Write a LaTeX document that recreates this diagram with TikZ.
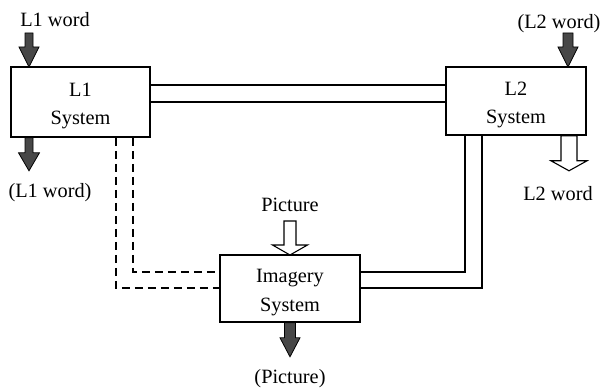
\documentclass[tikz,border=0pt]{standalone}
\usepackage{fontspec}
\setmainfont{Liberation Serif}
\begin{document}
\begin{tikzpicture}[x=1pt,y=-1pt,
  every node/.style={font=\fontsize{20.3}{28.5}\selectfont, inner sep=0pt},
  sysbox/.style={draw, line width=1.6pt},
  boxtext/.style={align=center, yshift=-4pt},
  lbl/.style={anchor=base},
  link/.style={line width=1.3pt},
  dlink/.style={line width=1.3pt, dash pattern=on 8pt off 5pt},
  arrowfill/.style={fill=black!72, draw=black, line width=0.8pt, line join=miter},
  arrowopen/.style={fill=white, draw=black, line width=1.1pt, line join=miter},
  pics/solidarrow/.style n args={4}{code={
    \filldraw[arrowfill] (-#3,0) -- (-#3,#1) -- (-#4,#1) -- (0,#2) -- (#4,#1) -- (#3,#1) -- (#3,0) -- cycle;}},
  pics/openarrow/.style n args={4}{code={
    \filldraw[arrowopen] (-#3,0) -- (-#3,#1) -- (-#4,#1) -- (0,#2) -- (#4,#1) -- (#3,#1) -- (#3,0) -- cycle;}}
]
\useasboundingbox (0,0) rectangle (603,390);

% boxes
\node[sysbox, minimum width=139pt, minimum height=70pt] (L1) at (80.5,102) {};
\node[sysbox, minimum width=140pt, minimum height=68pt] (L2) at (516,101) {};
\node[sysbox, minimum width=140pt, minimum height=67pt] (IM) at (290,288.5) {};
\node[boxtext] (L1t) at (L1.center) {L1\\System};
\node[boxtext] (L2t) at (L2.center) {L2\\System};
\node[boxtext] (IMt) at (IM.center) {Imagery\\System};

% labels
\node[lbl] (l1in)   at (55,27)   {L1 word};
\node[lbl] (l1out)  at (50,198)  {(L1 word)};
\node[lbl] (l2in)   at (559,29)  {(L2 word)};
\node[lbl] (l2out)  at (558,201) {L2 word};
\node[lbl] (picin)  at (290,212) {Picture};
\node[lbl] (picout) at (290,383) {(Picture)};

% L1 <-> L2 double connector
\coordinate (a1) at (L1.east |- 0,85);
\coordinate (a2) at (L1.east |- 0,102);
\draw[link] (a1) -- (a1 -| L2.west);
\draw[link] (a2) -- (a2 -| L2.west);

% L1 <-> Imagery dashed connectors
\coordinate (d1) at (116,0);
\coordinate (d2) at (133,0);
\coordinate (h1) at (0,272);
\coordinate (h2) at (0,288);
\draw[dlink] (d2 |- L1.south) -- (d2 |- h1) -- (h1 -| IM.west);
\draw[dlink] (d1 |- L1.south) -- (d1 |- h2) -- (h2 -| IM.west);

% L2 <-> Imagery double connector
\coordinate (e1) at (465,0);
\coordinate (e2) at (482,0);
\draw[link] (e1 |- L2.south) -- (e1 |- h1) -- (h1 -| IM.east);
\draw[link] (e2 |- L2.south) -- (e2 |- h2) -- (h2 -| IM.east);

% block arrows
\pic at (29,33) {solidarrow={14}{34}{4}{10}};
\pic at (L1.south -| 29,0) {solidarrow={15}{33}{4}{10.5}};
\pic at (568,33) {solidarrow={14}{34}{5}{10}};
\pic at (IM.south -| 290,0) {solidarrow={15}{34}{5.5}{10}};
\pic at (L2.south -| 569,0) {openarrow={25}{35}{8}{18}};
\pic at (290,221) {openarrow={24}{34}{6}{17.5}};
\end{tikzpicture}
\end{document}
